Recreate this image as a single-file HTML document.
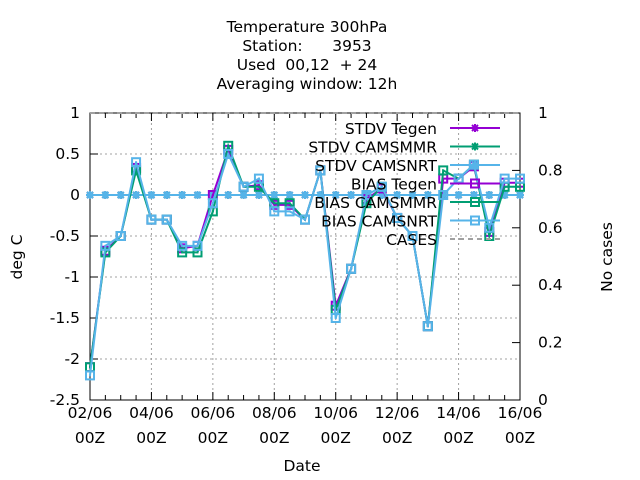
<!DOCTYPE html>
<html><head><meta charset="utf-8"><style>
body{margin:0;background:#fff}
svg{display:block;font-family:"DejaVu Sans","Liberation Sans",sans-serif;font-size:15.5px}
</style></head><body>
<svg id="chart" width="640" height="480" viewBox="0 0 640 480">
<rect width="640" height="480" fill="#fff"/>
<g text-anchor="middle" fill="#000">
<text x="307" y="32">Temperature 300hPa</text>
<text x="307" y="51" xml:space="preserve">Station:      3953</text>
<text x="307" y="70" xml:space="preserve">Used  00,12  + 24</text>
<text x="307" y="89">Averaging window: 12h</text>
</g>
<g id="grid"></g>
<g id="axes"></g>
<g id="series"></g>
<g id="legend"></g>
<text x="22" y="257" transform="rotate(-90 22 257)" text-anchor="middle">deg C</text>
<text x="612" y="257" transform="rotate(-90 612 257)" text-anchor="middle">No cases</text>
<text x="302" y="471" text-anchor="middle">Date</text>
</svg>
<script>
const yTicks=[1,0.5,0,-0.5,-1,-1.5,-2,-2.5];
const yTickLabels=["1","0.5","0","-0.5","-1","-1.5","-2","-2.5"];
const y2Ticks=[1,0.8,0.6,0.4,0.2,0];
const y2TickLabels=["1","0.8","0.6","0.4","0.2","0"];
const xTickDays=[0,2,4,6,8,10,12,14];
const xTickLabels=["02/06","04/06","06/06","08/06","10/06","12/06","14/06","16/06"];
const nPoints=29;
const biasTegen=[-2.1,-0.68,-0.5,0.33,-0.3,-0.3,-0.65,-0.62,0,0.55,0.1,0.12,-0.12,-0.12,-0.3,0.3,-1.35,-0.9,-0.05,0.08,-0.28,-0.5,-1.6,0.2,0.2,0.35,-0.45,0.15,0.15];
const biasMMR=[-2.1,-0.7,-0.5,0.3,-0.3,-0.3,-0.7,-0.7,-0.2,0.6,0.1,0.1,-0.1,-0.1,-0.3,0.3,-1.4,-0.9,-0.1,0.1,-0.28,-0.5,-1.6,0.3,0.2,0.37,-0.5,0.1,0.1];
const biasNRT=[-2.2,-0.62,-0.5,0.4,-0.3,-0.3,-0.62,-0.62,-0.1,0.5,0.1,0.2,-0.2,-0.2,-0.3,0.3,-1.5,-0.9,0,0.1,-0.28,-0.5,-1.6,0,0.2,0.37,-0.4,0.2,0.2];
const stdvTegen=new Array(29).fill(0);
const stdvMMR=new Array(29).fill(0);
const stdvNRT=new Array(29).fill(0);
const cases=new Array(29).fill(1);

const X0=90,X1=520,Y0=113,Y1=400;
const xs=i=>X0+(X1-X0)*i/(nPoints-1);
const xd=d=>X0+(X1-X0)*d/14;
const ys=v=>Y0+(1-v)/3.5*(Y1-Y0);
const ys2=v=>Y1-v*(Y1-Y0);
const NS="http://www.w3.org/2000/svg";
function mk(t,a,p){const e=document.createElementNS(NS,t);for(const k in a)e.setAttribute(k,a[k]);p.appendChild(e);return e;}
const grid=document.getElementById('grid'),axes=document.getElementById('axes'),ser=document.getElementById('series'),leg=document.getElementById('legend');

yTicks.forEach((v,i)=>{
 if(v<1&&v>-2.5){const l=mk('line',{x1:X0,x2:X1,y1:ys(v),y2:ys(v),stroke:'#a0a0a0','stroke-dasharray':'2,3'},grid);
 
 }
 mk('line',{x1:X0,x2:X0+8,y1:ys(v),y2:ys(v),stroke:'#000'},axes);
 const t=mk('text',{x:X0-10,y:ys(v)+5,'text-anchor':'end'},axes);t.textContent=yTickLabels[i];
 
 
});
y2Ticks.forEach((v,i)=>{
 mk('line',{x1:X1-8,x2:X1,y1:ys2(v),y2:ys2(v),stroke:'#000'},axes);
 const t=mk('text',{x:X1+18,y:ys2(v)+5},axes);t.textContent=y2TickLabels[i];
 
 
});
for(let i=0;i<nPoints;i++){
 const len=(i%4===0)?8:5;
 mk('line',{x1:xs(i),x2:xs(i),y1:Y1,y2:Y1-len,stroke:'#000'},axes);
 mk('line',{x1:xs(i),x2:xs(i),y1:Y0,y2:Y0+len,stroke:'#000'},axes);
}
xTickDays.forEach((d,i)=>{
 if(d>0&&d<14){const l=mk('line',{x1:xd(d),x2:xd(d),y1:Y0,y2:Y1,stroke:'#a0a0a0','stroke-dasharray':'2,3'},grid);
 
 }
 const t=mk('text',{x:xd(d),y:418,'text-anchor':'middle'},axes);t.textContent=xTickLabels[i];
 
 
 const t2=mk('text',{x:xd(d),y:443,'text-anchor':'middle'},axes);t2.textContent="00Z";
 
 
});
mk('rect',{x:X0,y:Y0,width:X1-X0,height:Y1-Y0,fill:'none',stroke:'#000','stroke-width':1},axes);

function star(p,x,y,c){mk('path',{d:`M${x-4} ${y}h8M${x} ${y-4}v8M${x-3} ${y-3}l6 6M${x-3} ${y+3}l6 -6`,stroke:c,'stroke-width':2,fill:'none'},p);}
function box(p,x,y,c){mk('rect',{x:x-4,y:y-4,width:8,height:8,stroke:c,'stroke-width':2,fill:'none'},p);mk('rect',{x:x-1,y:y-1,width:2,height:2,fill:c},p);}
const series=[
 {name:'STDV Tegen',data:stdvTegen,c:'#9400d3',m:star,id:'stdv-tegen'},
 {name:'STDV CAMSMMR',data:stdvMMR,c:'#009e73',m:star,id:'stdv-camsmmr'},
 {name:'STDV CAMSNRT',data:stdvNRT,c:'#56b4e9',m:star,id:'stdv-camsnrt'},
 {name:'BIAS Tegen',data:biasTegen,c:'#9400d3',m:box,id:'bias-tegen'},
 {name:'BIAS CAMSMMR',data:biasMMR,c:'#009e73',m:box,id:'bias-camsmmr'},
 {name:'BIAS CAMSNRT',data:biasNRT,c:'#56b4e9',m:box,id:'bias-camsnrt'}
];
const cl=mk('path',{d:cases.map((v,i)=>(i?'L':'M')+xs(i)+' '+ys2(v)).join(''),stroke:'#a0a0a0','stroke-width':2,'stroke-dasharray':'5,4',fill:'none'},ser);


series.forEach(s=>{
 const g=mk('g',{},ser);
 
 
 mk('path',{d:s.data.map((v,i)=>(i?'L':'M')+xs(i)+' '+ys(v)).join(''),stroke:s.c,'stroke-width':2,fill:'none'},g);
 s.data.forEach((v,i)=>s.m(g,xs(i),ys(v),s.c));
});
const items=series.concat([{name:'CASES',c:'#a0a0a0',id:'cases',dash:true}]);
items.forEach((s,k)=>{
 const y=128+18.5*k;
 const g=mk('g',{},leg);
 
 
 const t=mk('text',{x:437,y:y+6,'text-anchor':'end'},g);t.textContent=s.name;
 mk('line',{x1:450,x2:500,y1:y,y2:y,stroke:s.c,'stroke-width':2,'stroke-dasharray':s.dash?'5,4':'none'},g);
 if(s.m)s.m(g,475,y,s.c);
});
</script>
</body></html>
